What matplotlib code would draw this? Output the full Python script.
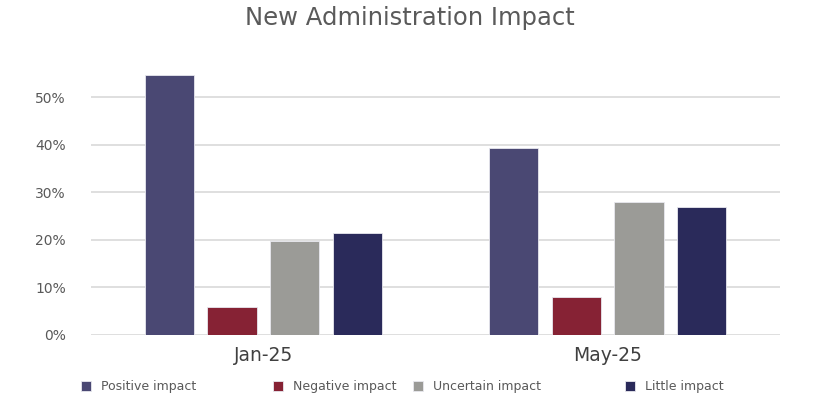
import matplotlib
matplotlib.use("Agg")
import matplotlib.pyplot as plt
import numpy as np

categories = ["Jan-25", "May-25"]
series_names = ["Positive impact", "Negative impact", "Uncertain impact", "Little impact"]
values = {
    "Positive impact": [0.547, 0.392],
    "Negative impact": [0.058, 0.079],
    "Uncertain impact": [0.197, 0.279],
    "Little impact": [0.214, 0.270],
}
colors = ["#4A4873", "#862234", "#9B9B97", "#2A2A5A"]
yticks = [0, 0.1, 0.2, 0.3, 0.4, 0.5]
ytick_labels = ["0%", "10%", "20%", "30%", "40%", "50%"]

plt.rcParams['font.family'] = ['DejaVu Sans']
fig = plt.figure(figsize=(8.2, 3.94), dpi=100)
ax = fig.add_axes([91/820, (394-335)/394, 689/820, (335-40)/394])

x = np.arange(len(categories))
width = 0.1434
step = 0.182
handles = []
for i, name in enumerate(series_names):
    h = ax.bar(x + (i - 1.5) * step, values[name], width, color=colors[i],
               edgecolor="#E8E8EE", linewidth=0.6, label=name, zorder=3)
    handles.append(h)

ax.set_xlim(-0.5, 1.5)
ax.set_ylim(0, 0.62)
ax.set_yticks(yticks)
ax.set_yticklabels(ytick_labels, fontsize=10, color="#595959")
ax.set_xticks(x)
ax.set_xticklabels(categories, fontsize=13.5, color="#404040")
ax.tick_params(axis='both', length=0)
ax.tick_params(axis='y', pad=18)
ax.tick_params(axis='x', pad=8)
ax.grid(axis='y', color="#D9D9D9", linewidth=1.2, zorder=0)
for s in ax.spines.values():
    s.set_visible(False)

fig.suptitle("New Administration Impact", fontsize=17.5, color="#5A5A5A", y=0.985)

legend_x = [70, 262, 402, 614]
for h, name, lx in zip(handles, series_names, legend_x):
    fig.legend([h], [name], loc="upper left", bbox_to_anchor=(lx/820, 1 - 369/394),
               frameon=False, fontsize=9, handlelength=0.8, handleheight=0.8,
               labelcolor="#595959")

fig.savefig("out.png", dpi=100)
